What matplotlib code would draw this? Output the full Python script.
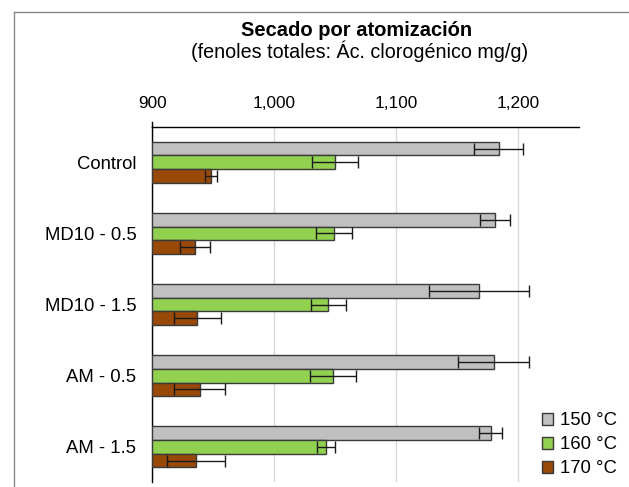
import matplotlib
matplotlib.use("Agg")
import matplotlib.pyplot as plt
import numpy as np
from matplotlib.lines import Line2D
from matplotlib.ticker import FuncFormatter

plt.rcParams['font.family'] = ['Liberation Sans', 'DejaVu Sans']

# ----------- Datos -----------
categorias = ["Control", "MD10 - 0.5", "MD10 - 1.5", "AM - 0.5", "AM - 1.5"]
series = ["150 °C", "160 °C", "170 °C"]
valores_150 = [1184, 1181, 1168, 1180, 1177.5]
valores_160 = [1050, 1049, 1044.5, 1048, 1042.5]
valores_170 = [948, 935, 937, 939, 936]
error_150 = [20, 12.5, 41, 29, 9.5]
error_160 = [19, 14.5, 14.5, 19, 7.5]
error_170 = [5, 12, 19, 21, 24]

colores = ["#C0C0C0", "#92D050", "#984807"]
base = 900

# ----------- Figura -----------
fig = plt.figure(figsize=(6.29, 4.87), dpi=100)
ax = fig.add_axes([0.2421, 0.0094, 0.9205 - 0.2421, 0.7398 - 0.0094])

y = np.arange(len(categorias))
h = 0.193
valores = [valores_150, valores_160, valores_170]
errores = [error_150, error_160, error_170]

for k in range(3):
    v = np.array(valores[k])
    pos = y + (k - 1) * h
    ax.barh(pos, v - base, left=base, height=h, color=colores[k],
            edgecolor="#3a3a3a", linewidth=1.0, label=series[k], zorder=3)
    ax.errorbar(v, pos, xerr=errores[k], fmt="none", ecolor="#1a1a1a",
                elinewidth=1.0, capsize=4.3, capthick=1.0, zorder=4)

ax.set_xlim(900, 1250)
ax.set_ylim(len(categorias) - 0.5, -0.5)
ax.set_xticks([900, 1000, 1100, 1200])
ax.xaxis.set_major_formatter(FuncFormatter(lambda x, p: f"{int(x):,}"))
ax.xaxis.tick_top()
ax.set_yticks(y)
ax.set_yticklabels(categorias)
ax.tick_params(axis="x", length=0, pad=11.5, labelsize=12.4)
ax.tick_params(axis="y", length=0, pad=11.5, labelsize=13.3)
ax.grid(axis="x", color="#d9d9d9", linewidth=1.0, zorder=0)
ax.set_axisbelow(True)

for s in ["right", "bottom"]:
    ax.spines[s].set_visible(False)
ax.spines["top"].set_color("black")
ax.spines["left"].set_color("black")
ax.spines["top"].set_linewidth(1.0)
ax.spines["left"].set_linewidth(1.0)
# pequeña marca del eje sobre la línea superior
ax.plot([0, 0], [1.0, 1.012], transform=ax.transAxes, color="black",
        lw=1.0, clip_on=False)

# ----------- Títulos -----------
fig.text(0.567, 1 - 36 / 487, "Secado por atomización", ha="center",
         va="baseline", fontsize=14.5, fontweight="bold")
fig.text(0.572, 1 - 58.5 / 487, "(fenoles totales: Ác. clorogénico mg/g)",
         ha="center", va="baseline", fontsize=14.2)

# ----------- Leyenda -----------
ax.legend(loc="lower left", bbox_to_anchor=(0.856, 0.012),
          bbox_transform=fig.transFigure, frameon=False, fontsize=13.3,
          handlelength=0.6, handleheight=0.6, handletextpad=0.35,
          labelspacing=0.38, borderpad=0.2, borderaxespad=0)

# ----------- Borde del área del gráfico -----------
fig.add_artist(Line2D([13.5 / 629, 1.0], [1 - 12 / 487, 1 - 12 / 487],
                      transform=fig.transFigure, color="#868686", lw=1.0))
fig.add_artist(Line2D([13.5 / 629, 13.5 / 629], [0, 1 - 12 / 487],
                      transform=fig.transFigure, color="#868686", lw=1.0))

fig.savefig("out.png", dpi=100)
